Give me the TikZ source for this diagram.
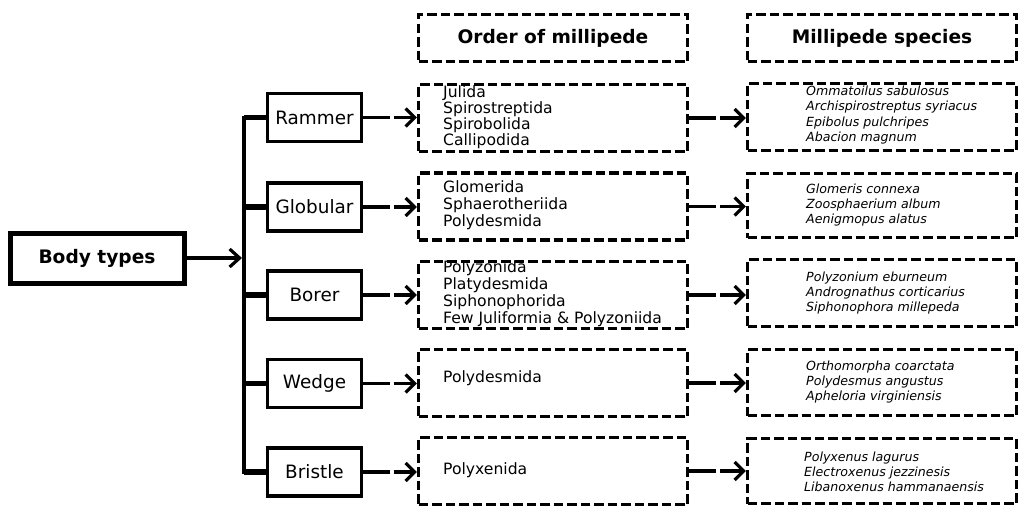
\documentclass[tikz,border=0pt]{standalone}
\usepackage{fontspec}
\setmainfont{DejaVu Sans}
\usetikzlibrary{positioning,arrows.meta,calc}

\begin{document}
\begin{tikzpicture}[x=1pt, y=-1pt, every node/.style={inner sep=0pt},
  rootbox/.style={draw, line width=5pt, minimum width=174pt, minimum height=50pt, font=\fontsize{18.6}{22}\selectfont\bfseries},
  typebox/.style={draw, line width=3.2pt, minimum width=94pt, minimum height=48pt, font=\fontsize{18.4}{22}\selectfont},
  dashbox/.style={draw, line width=3.4pt, dash pattern=on 9.5pt off 4pt, minimum width=269pt, minimum height=67pt},
  headbox/.style={dashbox, minimum height=47pt, font=\fontsize{18.6}{22}\selectfont\bfseries},
  ordtxt/.style={anchor=west, align=left, font=\fontsize{15.6}{17}\selectfont},
  sptxt/.style={anchor=west, align=left, font=\fontsize{12.6}{15.2}\selectfont\itshape},
  link/.style={line width=3.2pt, dash pattern=on 27pt off 4pt, -{Straight Barb[length=9pt,width=18pt]}}]
  \useasboundingbox[fill=white] (0,0) rectangle (1019,506);

  % root and the five body types
  \node[rootbox] (body) at (97,258) {Body types};
  \node[typebox] (ram) at (314.5,117.5) {Rammer};
  \node[typebox] (glo) at (314.5,207) {Globular};
  \node[typebox] (bor) at (314.5,295) {Borer};
  \node[typebox] (wed) at (314.5,383.5) {Wedge};
  \node[typebox] (bri) at (314.5,472) {Bristle};
  \coordinate (ttop) at (244,117.5);
  \coordinate (tbot) at (244,472);
  \coordinate (hub) at (242,258);
  \draw[line width=4pt, line cap=rect] (ttop) -- (tbot);
  \foreach \n in {ram,glo,bor,wed,bri}
    \draw[line width=5.5pt] (\n.west) -- (\n.west -| ttop);
  \draw[line width=3.2pt, -{Straight Barb[length=10pt,width=18pt]}] (body) -- (hub);

  % orders
  \node[headbox] (ordh) at (553,38) {Order of millipede};
  \node[dashbox] (o1) at (553,118) {};
  \node[dashbox] (o2) at (553,206.5) {};
  \node[dashbox] (o3) at (553,295) {};
  \node[dashbox] (o4) at (553,383) {};
  \node[dashbox] (o5) at (553,471) {};
  \node[ordtxt, font=\fontsize{15.6}{14.7}\selectfont] (o1t) at (443,117) {Julida\\Spirostreptida\\Spirobolida\\Callipodida};
  \node[ordtxt] (o2t) at (443,205) {Glomerida\\Sphaerotheriida\\Polydesmida};
  \node[ordtxt] (o3t) at (443,293.5) {Polyzonida\\Platydesmida\\Siphonophorida\\Few Juliformia \& Polyzoniida};
  \node[ordtxt] (o4t) at (443,378) {Polydesmida};
  \node[ordtxt] (o5t) at (443,470) {Polyxenida};

  % species
  \node[headbox] (sph) at (882,38) {Millipede species};
  \node[dashbox] (s1) at (882,117) {};
  \node[dashbox, minimum height=64pt] (s2) at (882,205.5) {};
  \node[dashbox] (s3) at (882,293) {};
  \node[dashbox, minimum height=66pt] (s4) at (882,382.5) {};
  \node[dashbox, minimum height=65pt] (s5) at (882,471) {};
  \node[sptxt] (s1t) at (806,115) {Ommatoilus sabulosus\\Archispirostreptus syriacus\\Epibolus pulchripes\\Abacion magnum};
  \node[sptxt] (s2t) at (806,205) {Glomeris connexa\\Zoosphaerium album\\Aenigmopus alatus};
  \node[sptxt] (s3t) at (806,293) {Polyzonium eburneum\\Andrognathus corticarius\\Siphonophora millepeda};
  \node[sptxt] (s4t) at (806,382) {Orthomorpha coarctata\\Polydesmus angustus\\Apheloria virginiensis};
  \node[sptxt] (s5t) at (804,472) {Polyxenus lagurus\\Electroxenus jezzinesis\\Libanoxenus hammanaensis};

  % links
  \draw[link] (ram) -- (o1.west |- ram);
  \draw[link] (glo) -- (o2.west |- glo);
  \draw[link] (bor) -- (o3.west |- bor);
  \draw[link] (wed) -- (o4.west |- wed);
  \draw[link] (bri) -- (o5.west |- bri);
  \draw[link] (o1) -- (s1.west |- o1);
  \draw[link] (o2) -- (s2.west |- o2);
  \draw[link] (o3) -- (s3.west |- o3);
  \draw[link] (o4) -- (s4.west |- o4);
  \draw[link] (o5) -- (s5.west |- o5);
\end{tikzpicture}
\end{document}
